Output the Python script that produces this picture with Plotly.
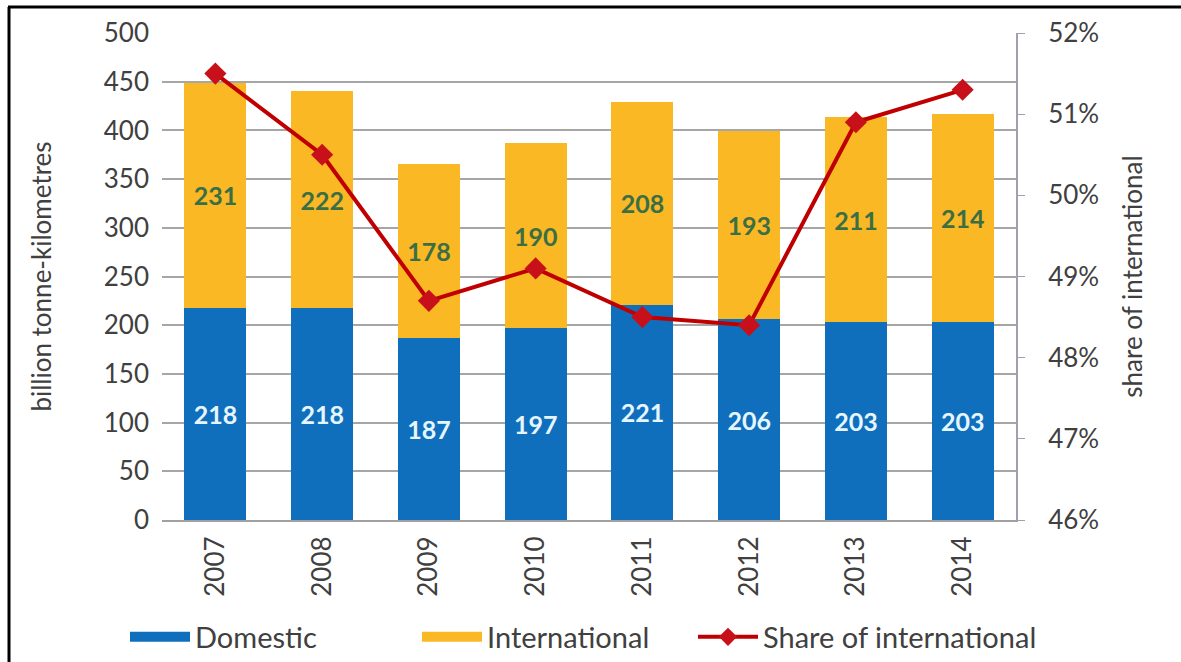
import plotly.graph_objects as go

years = ["2007", "2008", "2009", "2010", "2011", "2012", "2013", "2014"]
domestic = [218, 218, 187, 197, 221, 206, 203, 203]
international = [231, 222, 178, 190, 208, 193, 211, 214]
share_intl = [51.5, 50.5, 48.7, 49.1, 48.5, 48.4, 50.9, 51.3]

W, H = 1181, 662
ml, mr, mt, mb = 162, 165, 33, 142
FONT = "Lato"
TXT = "#404040"
BLUE = "#0f6fbd"
ORANGE = "#f9b824"
RED = "#c00000"

fig = go.Figure()
fig.add_trace(go.Bar(
    x=years, y=domestic, name="Domestic", showlegend=False,
    marker=dict(color=BLUE, line=dict(width=0)),
    text=[str(v) for v in domestic], textposition="inside",
    insidetextanchor="middle", textangle=0, constraintext="none",
    textfont=dict(family=FONT, size=25, color="#e6f6ff", weight="bold"),
))
fig.add_trace(go.Bar(
    x=years, y=international, name="International", showlegend=False,
    marker=dict(color=ORANGE, line=dict(width=0)),
    text=[str(v) for v in international], textposition="inside",
    insidetextanchor="middle", textangle=0, constraintext="none",
    textfont=dict(family=FONT, size=25, color="#3b6e45", weight="bold"),
))
fig.add_trace(go.Scatter(
    x=years, y=share_intl, name="Share of international", yaxis="y2",
    mode="lines+markers", showlegend=False,
    line=dict(color=RED, width=4),
    marker=dict(symbol="diamond", size=17, color="#c8101a"),
))
# legend entries
fig.add_trace(go.Scatter(x=[None], y=[None], name="Domestic", mode="lines",
                         line=dict(color=BLUE, width=16), legend="legend"))
fig.add_trace(go.Scatter(x=[None], y=[None], name="International", mode="lines",
                         line=dict(color=ORANGE, width=16), legend="legend2"))
fig.add_trace(go.Scatter(x=[None], y=[None], name="Share of international",
                         mode="lines+markers", yaxis="y2", legend="legend3",
                         line=dict(color=RED, width=4),
                         marker=dict(symbol="diamond", size=14, color="#c8101a")))

paper_x = lambda px: (px - ml) / (W - ml - mr)
paper_y = lambda py: (H - mb - py) / (H - mt - mb)


def leg(px):
    return dict(orientation="h", x=paper_x(px), xanchor="left",
                y=paper_y(637), yanchor="middle",
                font=dict(size=29, color=TXT), itemwidth=60,
                bgcolor="rgba(0,0,0,0)")


fig.update_layout(
    width=W, height=H,
    margin=dict(l=ml, r=mr, t=mt, b=mb, autoexpand=False),
    paper_bgcolor="white", plot_bgcolor="white",
    barmode="stack", bargap=0.42,
    font=dict(family=FONT, color=TXT, size=24),
    showlegend=True,
    legend=leg(125), legend2=leg(417), legend3=leg(693),
    xaxis=dict(type="category", tickangle=-90, showgrid=False, automargin=False,
               showline=True, linecolor="#a0a0a0", linewidth=2,
               ticks="", tickfont=dict(size=26, color=TXT), ticklabelstandoff=4),
    yaxis=dict(range=[0, 500], dtick=50, showgrid=True, automargin=False,
               gridcolor="#a6a6a6", gridwidth=2, zeroline=False,
               showline=False, ticks="",
               tickfont=dict(size=26, color=TXT), ticklabelstandoff=12,
               title=dict(text="billion tonne-kilometres", standoff=44,
                          font=dict(size=26, color=TXT))),
    yaxis2=dict(range=[46, 52], dtick=1, overlaying="y", side="right",
                showgrid=False, zeroline=False, showline=True, automargin=False,
                linecolor="#a0a0b0", linewidth=2,
                ticks="outside", ticklen=7, tickcolor="#a0a0b0",
                ticksuffix="%", tickfont=dict(size=26, color=TXT),
                ticklabelstandoff=18,
                title=dict(text="share of international", standoff=26,
                           font=dict(size=26, color=TXT))),
    shapes=[
        dict(type="line", xref="paper", yref="paper",
             x0=paper_x(8), x1=paper_x(1181), y0=paper_y(7), y1=paper_y(7),
             line=dict(color="black", width=3)),
        dict(type="line", xref="paper", yref="paper",
             x0=paper_x(9), x1=paper_x(9), y0=paper_y(7), y1=paper_y(662),
             line=dict(color="black", width=3)),
    ],
)

fig.write_html("out.html")
